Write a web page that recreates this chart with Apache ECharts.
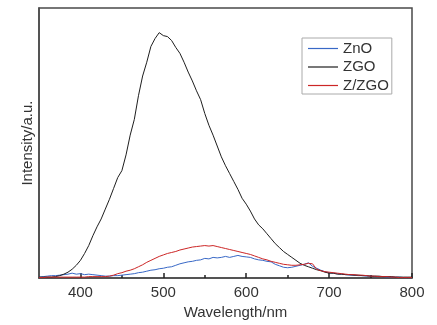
<!DOCTYPE html>
<html>
<head>
<meta charset="utf-8">
<script src="https://cdn.jsdelivr.net/npm/echarts@6/dist/echarts.min.js"></script>
<style>
  html, body { margin: 0; padding: 0; background: #fff; }
  #chart { width: 437px; height: 325px; }
</style>
</head>
<body>
<div id="chart"></div>
<script>
// wavelength grid, 5 nm steps from 350 to 800
const wavelengths = []
for (let w = 350; w <= 800; w += 5) wavelengths.push(w)

const majorTicks = [400, 500, 600, 700, 800]
const minorTicks = [450, 550, 650, 750]

// intensities (a.u.)
const zno = [
  1, 1.5, 2, 2.5, 2.5, 3, 3.5, 4, 5, 4,
  4.5, 3.5, 4, 3.5, 3, 2.5, 2, 2, 2.5, 2.5,
  3, 3.5, 4, 4.5, 5.5, 6, 7, 8, 8.5, 9.5,
  10, 11, 11.5, 13, 14.5, 15.5, 16.5, 17, 18, 18.5,
  20, 19.5, 21, 20.5, 21, 22, 21, 22, 23, 22,
  21.5, 21, 19.5, 18.5, 18, 17, 16.5, 14, 12.5, 11,
  10.5, 11, 12, 13, 14, 15.5, 12, 10, 8, 6.5,
  5.5, 5, 4.5, 4, 3.5, 3, 3, 2.5, 2.5, 2,
  2, 1.5, 1.5, 1.5, 1, 1, 1, 1, 0.5, 0.5,
  0.5,
]

const zgo = [
  1, 1, 1, 1, 1.5, 2.5, 4, 6, 9, 13,
  18, 25, 33, 43, 52, 60, 70, 80, 91, 102,
  109, 125, 145, 161, 185, 205, 219, 235, 243, 249,
  246, 245, 241, 234, 228, 219, 209, 200, 190, 181,
  167, 155, 145, 134, 123, 114, 106, 98, 90, 81,
  75, 68, 60, 54, 50, 45, 40, 35, 31, 27,
  24, 21, 18, 15, 13, 11.5, 10, 8.5, 7.5, 6,
  5, 5, 4, 4, 3.5, 3.5, 3, 3, 2.5, 2.5,
  2, 2, 2, 1.5, 1.5, 1.5, 1, 1, 1, 1,
  1,
]

const zzgo = [
  0.5, 0.5, 1, 1, 1, 1, 1, 1, 1, 1,
  1, 1, 1.5, 1.5, 1.5, 1.5, 1.5, 2, 3, 4.5,
  5.5, 7, 8, 9.5, 11.5, 13.5, 16, 18, 20, 22,
  23.5, 25, 26, 27, 28.5, 29.5, 30.5, 31.5, 32, 32.5,
  33, 32.5, 33, 32, 31, 30, 29, 28, 27, 26,
  25, 24, 22.5, 21, 19.5, 18.5, 17, 16, 15, 14,
  13.5, 13, 13, 13.5, 14, 15, 14.5, 9, 7.5, 6.5,
  6, 5.5, 5, 4.5, 4, 3.5, 3.5, 3, 3, 2.5,
  2, 2, 1.5, 1.5, 1.5, 1, 1, 0.5, 0.5, 0.5,
  0.5,
]

const seriesDefs = [
  { name: "ZnO", values: zno, color: "#3868c6" },
  { name: "ZGO", values: zgo, color: "#1e1e1e" },
  { name: "Z/ZGO", values: zzgo, color: "#cc2626" },
]

const frame = "#4a4a4a"
const font = "Liberation Sans, Arial, sans-serif"

const chart = echarts.init(document.getElementById("chart"), null, { renderer: "canvas" })

chart.setOption({
  animation: false,
  backgroundColor: "#fff",
  textStyle: { fontFamily: font, color: "#333" },
  grid: {
    left: 39, right: 25, top: 8, bottom: 43,
    show: true, borderColor: frame, borderWidth: 1.5,
  },
  legend: {
    orient: "vertical",
    left: 302,
    top: 38,
    padding: [2, 3, 0, 6],
    icon: "rect",
    itemWidth: 30,
    itemHeight: 1.2,
    itemGap: 1.5,
    borderColor: "#aaa",
    borderWidth: 1,
    textStyle: { fontSize: 15, lineHeight: 17, color: "#333", fontFamily: font },
    data: seriesDefs.map((s) => s.name),
  },
  xAxis: [
    {
      type: "value",
      min: 350,
      max: 800,
      interval: 50,
      name: "Wavelength/nm",
      nameLocation: "middle",
      nameGap: 19,
      nameTextStyle: { fontSize: 15, color: "#333", padding: [0, 0, 0, 20] },
      axisLine: { lineStyle: { color: frame, width: 1.5 } },
      axisTick: {
        inside: true, length: 5, customValues: majorTicks,
        lineStyle: { color: "#222", width: 1.5 },
      },
      axisLabel: {
        customValues: majorTicks, margin: 7,
        fontSize: 15, color: "#333",
      },
      splitLine: { show: false },
    },
    {
      type: "value",
      min: 350,
      max: 800,
      interval: 50,
      position: "bottom",
      offset: 0,
      axisLine: { show: false },
      axisTick: {
        inside: true, length: 3, customValues: minorTicks,
        lineStyle: { color: "#222", width: 1.5 },
      },
      axisLabel: { show: false },
      splitLine: { show: false },
    },
  ],
  yAxis: {
    type: "value",
    min: 0,
    max: 274,
    name: "Intensity/a.u.",
    nameLocation: "middle",
    nameGap: 4,
    nameTextStyle: { fontSize: 15, color: "#333" },
    axisLine: { show: true, lineStyle: { color: frame, width: 1.5 } },
    axisTick: { show: false },
    axisLabel: { show: false },
    splitLine: { show: false },
  },
  series: seriesDefs.map((s) => ({
    name: s.name,
    type: "line",
    symbol: "none",
    xAxisIndex: 0,
    data: wavelengths.map((w, i) => [w, s.values[i]]),
    lineStyle: { color: s.color, width: 1 },
    itemStyle: { color: s.color },
  })),
})
</script>
</body>
</html>
